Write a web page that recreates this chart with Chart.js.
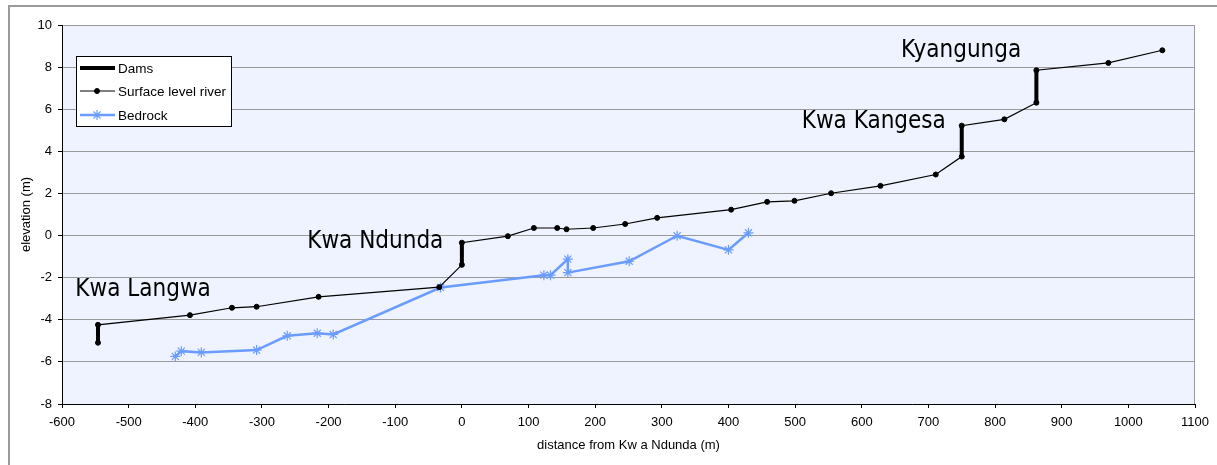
<!DOCTYPE html>
<html>
<head>
<meta charset="utf-8">
<script src="https://cdn.jsdelivr.net/npm/chart.js@4"></script>
<style>
  html, body { margin: 0; padding: 0; background: #fff; }
  #wrap { position: relative; width: 1217px; height: 465px; }
  #frame { position: absolute; left: 8px; top: 5px; right: 0; bottom: 0; border-top: 2px solid #9a9a9a; border-left: 2px solid #9a9a9a; pointer-events: none; }
</style>
</head>
<body>
<div id="wrap">
  <canvas id="profileChart" width="1217" height="465"></canvas>
  <div id="frame"></div>
</div>
<script>
// river surface profile (distance m, elevation m)
const riverX = [-546, -546, -408, -345, -308, -215, -34, 0, 0, 69, 108, 143, 157, 197, 245, 293, 404, 458, 499, 554, 628, 711, 750, 750, 814, 862, 862, 970, 1051];
const riverY = [-5.09, -4.24, -3.78, -3.43, -3.38, -2.91, -2.45, -1.39, -0.34, -0.03, 0.36, 0.36, 0.30, 0.36, 0.55, 0.84, 1.23, 1.60, 1.65, 2.01, 2.36, 2.90, 3.75, 5.22, 5.52, 6.31, 7.85, 8.20, 8.80];

// bedrock profile
const rockX = [-430, -421, -391, -308, -262, -217, -193, -32, 123, 133, 159, 159, 251, 323, 400, 430];
const rockY = [-5.74, -5.49, -5.55, -5.44, -4.76, -4.64, -4.70, -2.47, -1.88, -1.88, -1.12, -1.76, -1.22, -0.01, -0.68, 0.13];

// dam walls (x, bottom, top)
const damX = [-546, 0, 750, 862];
const damBottom = [-5.09, -1.39, 3.75, 6.31];
const damTop = [-4.24, -0.34, 5.22, 7.85];

// site names, anchored at left/baseline
const siteNames = ['Kwa Langwa', 'Kwa Ndunda', 'Kwa Kangesa', 'Kyangunga'];
const siteX = [-580, -232, 510, 659];
const siteY = [-2.88, -0.58, 5.09, 8.5];

const labelFont = '"Liberation Sans", Arial, sans-serif';

const damPts = [];
damX.forEach((x, i) => {
  damPts.push({x: x, y: damBottom[i]}, {x: x, y: damTop[i]}, {x: x, y: null});
});

const plotBg = {
  id: 'plotBg',
  beforeDraw(chart) {
    const {ctx, chartArea: a} = chart;
    ctx.save();
    ctx.fillStyle = '#eef3ff';
    ctx.fillRect(a.left, a.top, a.right - a.left, a.bottom - a.top);
    ctx.strokeStyle = '#9a9a9a';
    ctx.lineWidth = 1;
    ctx.beginPath();
    ctx.moveTo(a.left, a.top + 0.5);
    ctx.lineTo(a.right - 0.5, a.top + 0.5);
    ctx.lineTo(a.right - 0.5, a.bottom);
    ctx.stroke();
    ctx.restore();
  }
};

const extras = {
  id: 'extras',
  afterDatasetsDraw(chart) {
    const {ctx, scales} = chart;
    ctx.save();
    // site names
    ctx.fillStyle = '#000';
    ctx.font = '24px "Liberation Sans Narrow", "DejaVu Sans Condensed", sans-serif';
    ctx.textBaseline = 'alphabetic';
    ctx.textAlign = 'left';
    siteNames.forEach((t, i) => {
      ctx.fillText(t, scales.x.getPixelForValue(siteX[i]), scales.y.getPixelForValue(siteY[i]));
    });
    // legend box
    const bx = 76.5, by = 56.5, bw = 155, bh = 70;
    ctx.fillStyle = '#fff';
    ctx.fillRect(bx, by, bw, bh);
    ctx.strokeStyle = '#000';
    ctx.lineWidth = 1;
    ctx.strokeRect(bx, by, bw, bh);
    const rows = [68, 91, 115];
    const names = ['Dams', 'Surface level river', 'Bedrock'];
    ctx.font = '13.5px ' + labelFont;
    ctx.textBaseline = 'middle';
    rows.forEach((ry, i) => {
      const ds = chart.data.datasets[i];
      ctx.strokeStyle = ds.borderColor;
      ctx.lineWidth = ds.borderWidth;
      ctx.beginPath();
      ctx.moveTo(80, ry);
      ctx.lineTo(115, ry);
      ctx.stroke();
      if (ds.pointRadius > 0) {
        ctx.fillStyle = ds.pointBackgroundColor;
        ctx.strokeStyle = ds.pointBorderColor;
        ctx.lineWidth = ds.pointBorderWidth || 1;
        Chart.helpers.drawPoint(ctx, {
          pointStyle: ds.pointStyle, radius: ds.pointRadius,
          borderWidth: ds.pointBorderWidth || 1
        }, 97, ry);
      }
      ctx.fillStyle = '#000';
      ctx.fillText(names[i], 118, ry + 1);
    });
    ctx.restore();
  }
};

new Chart(document.getElementById('profileChart'), {
  type: 'line',
  data: {
    datasets: [
      {
        label: 'Dams',
        data: damPts,
        borderColor: '#000',
        borderWidth: 4,
        pointRadius: 0,
        spanGaps: false,
        order: 0
      },
      {
        label: 'Surface level river',
        data: riverX.map((x, i) => ({x: x, y: riverY[i]})),
        borderColor: '#000',
        borderWidth: 1.2,
        pointStyle: 'circle',
        pointRadius: 2.5,
        pointBackgroundColor: '#000',
        pointBorderColor: '#000',
        pointBorderWidth: 1,
        order: 1
      },
      {
        label: 'Bedrock',
        data: rockX.map((x, i) => ({x: x, y: rockY[i]})),
        borderColor: '#6a9cff',
        borderWidth: 2.5,
        pointStyle: 'star',
        pointRadius: 5,
        pointBackgroundColor: '#6a9cff',
        pointBorderColor: '#6a9cff',
        pointBorderWidth: 1.2,
        order: 2
      }
    ]
  },
  options: {
    responsive: false,
    animation: false,
    events: [],
    layout: { padding: { left: 12, top: 25, right: 22, bottom: 8 } },
    plugins: { legend: { display: false }, tooltip: { enabled: false } },
    elements: { line: { tension: 0 } },
    scales: {
      x: {
        type: 'linear',
        min: -600, max: 1100,
        afterFit: s => { s.height = 53; },
        ticks: { stepSize: 100, color: '#000', font: { size: 13, family: labelFont }, padding: 7, maxRotation: 0, format: { useGrouping: false } },
        grid: { drawOnChartArea: false, tickLength: 4, color: '#000' },
        border: { color: '#000', width: 1 },
        title: { display: true, text: 'distance from Kw a Ndunda (m)', color: '#000', font: { size: 13, family: labelFont }, padding: 4 }
      },
      y: {
        min: -8, max: 10,
        afterFit: s => { s.width = 50; },
        ticks: { stepSize: 2, color: '#000', font: { size: 13, family: labelFont }, padding: 6 },
        grid: { color: '#9a9a9a', tickLength: 4, tickColor: '#000' },
        border: { color: '#000', width: 1 },
        title: { display: true, text: 'elevation (m)', color: '#000', font: { size: 13, family: labelFont }, padding: { top: 7, bottom: 4 } }
      }
    }
  },
  plugins: [plotBg, extras]
});
</script>
</body>
</html>
